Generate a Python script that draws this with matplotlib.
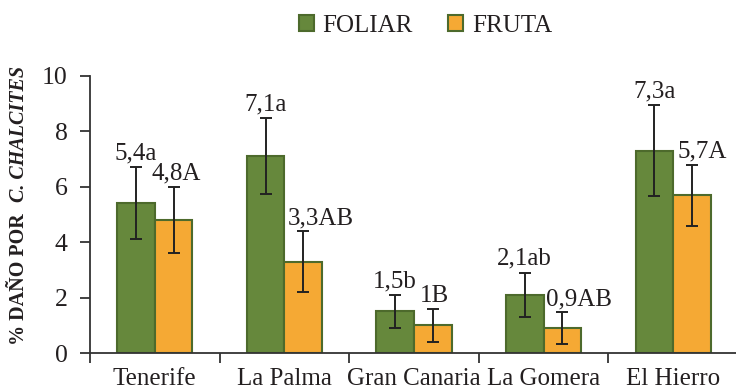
import numpy as np
import matplotlib.pyplot as plt
from matplotlib.patches import Patch

plt.rcParams['font.family'] = ['Liberation Serif', 'DejaVu Serif']

islands = ['Tenerife', 'La Palma', 'Gran Canaria', 'La Gomera', 'El Hierro']
foliar = [5.4, 7.1, 1.5, 2.1, 7.3]
fruta = [4.8, 3.3, 1.0, 0.9, 5.7]
foliar_err = [1.3, 1.37, 0.58, 0.8, 1.64]
fruta_err = [1.2, 1.1, 0.6, 0.58, 1.1]
foliar_labels = ['5,4a', '7,1a', '1,5b', '2,1ab', '7,3a']
fruta_labels = ['4,8A', '3,3AB', '1B', '0,9AB', '5,7A']
# horizontal nudges (points) for the fruta labels
fruta_dx = [2, 12.5, 1.5, 12, 7]

green = '#66883c'
orange = '#f5a934'
edge = '#4d6a2c'
width = 0.29

fig = plt.figure(figsize=(7.36, 3.91), dpi=100)
ax = fig.add_axes([90 / 736, 38 / 391, 648 / 736, 277 / 391])

x = np.arange(len(islands))
ax.bar(x - width / 2, foliar, width, color=green, edgecolor=edge, linewidth=1.5, zorder=2)
ax.bar(x + width / 2, fruta, width, color=orange, edgecolor=edge, linewidth=1.5, zorder=2)
ax.errorbar(x - width / 2, foliar, yerr=foliar_err, fmt='none', ecolor='#222222',
            elinewidth=1.4, capsize=4.3, capthick=1.4, zorder=3)
ax.errorbar(x + width / 2, fruta, yerr=fruta_err, fmt='none', ecolor='#222222',
            elinewidth=1.4, capsize=4.3, capthick=1.4, zorder=3)

for i in range(len(islands)):
    ax.annotate(foliar_labels[i], (x[i] - width / 2, foliar[i] + foliar_err[i]),
                xytext=(0, 6), textcoords='offset points', ha='center', va='baseline',
                fontsize=18, color='#231f20')
    ax.annotate(fruta_labels[i], (x[i] + width / 2, fruta[i] + fruta_err[i]),
                xytext=(fruta_dx[i], 5), textcoords='offset points', ha='center',
                va='baseline', fontsize=18, color='#231f20')

ax.set_xlim(-0.5, 4.5)
ax.set_ylim(0, 10)
ax.set_yticks(range(0, 11, 2))
ax.set_xticks(np.arange(-0.5, 5, 1))
ax.set_xticklabels([])
ax.set_xticks(x, minor=True)
ax.set_xticklabels(islands, minor=True)
ax.tick_params(axis='x', which='major', direction='out', length=7, width=1.3, color='#333333')
ax.tick_params(axis='x', which='minor', length=0, pad=11, labelsize=18, labelcolor='#231f20')
ax.tick_params(axis='y', direction='out', length=7, width=1.3, pad=9,
               labelsize=18.5, labelcolor='#231f20', color='#333333')
for side in ['top', 'right']:
    ax.spines[side].set_visible(False)
for side in ['left', 'bottom']:
    ax.spines[side].set_linewidth(1.3)
    ax.spines[side].set_color('#333333')

# y label: plain bold part followed by the bold-italic species name
t1 = fig.text(19 / 736, 46 / 391, '% DAÑO POR', rotation=90, ha='center', va='bottom',
              fontsize=14.5, fontweight='bold', color='#231f20')
ax.annotate('C. CHALCITES', xy=(0.5, 1), xycoords=t1, xytext=(0, 8),
            textcoords='offset points', rotation=90, ha='center', va='bottom',
            fontsize=14.5, fontweight='bold', fontstyle='italic', color='#231f20',
            annotation_clip=False)

handles = [Patch(facecolor=green, edgecolor=edge, linewidth=1.5, label='FOLIAR'),
           Patch(facecolor=orange, edgecolor=edge, linewidth=1.5, label='FRUTA')]
fig.legend(handles=handles, loc='upper center', bbox_to_anchor=(0.578, 1.02), ncol=2,
           frameon=False, fontsize=18, handlelength=0.6, handleheight=0.6,
           handletextpad=0.35, columnspacing=1.4, labelcolor='#231f20')

fig.savefig('out.png', dpi=100)
